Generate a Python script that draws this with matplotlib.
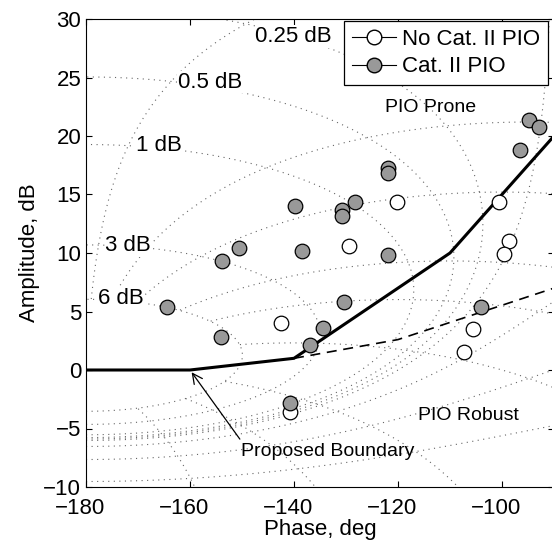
import numpy as np
import matplotlib
matplotlib.use('Agg')
from matplotlib import pyplot as plt
from matplotlib.lines import Line2D
from matplotlib.transforms import ScaledTranslation

plt.rcParams['font.family'] = ['Liberation Sans', 'DejaVu Sans']
plt.rcParams['font.size'] = 16

# data (phase deg, amplitude dB)
no_pio_phase = [-142.5, -120.2, -100.5, -129.4, -98.7, -99.6, -105.5, -107.3, -140.8]
no_pio_amp = [4.0, 14.4, 14.4, 10.6, 11.0, 9.9, 3.5, 1.5, -3.6]

pio_phase = [-164.4, -153.8, -150.6, -154.0, -139.9, -138.4, -137.0, -130.8, -130.8,
             -128.3, -122.0, -122.0, -122.0, -130.3, -134.4, -104.0, -94.9, -92.9,
             -96.5, -140.8]
pio_amp = [5.4, 9.3, 10.4, 2.8, 14.0, 10.2, 2.1, 13.7, 13.2,
           14.4, 17.3, 16.8, 9.8, 5.8, 3.6, 5.4, 21.4, 20.8,
           18.8, -2.85]

boundary_phase = [-180, -160, -140, -110, -90]
boundary_amp = [0, 0, 1.0, 10.0, 20.0]

dashed_phase = [-140, -120, -90]
dashed_amp = [1.0, 2.6, 7.0]

# nichols grid levels
grid_gains = [-40, -20, -12, -6, -3, -1, 0, 0.25, 0.5, 1, 3, 6]
grid_phases = [-150, -120, -90, -50, -30, -20, -10, -5, -1]
gain_labels = ['0.25 dB', '0.5 dB', '1 dB', '3 dB', '6 dB']
gain_label_pos = [(-140.1, 28.5), (-156.2, 24.6), (-166.0, 19.2), (-171.9, 10.6), (-173.3, 6.1)]

fig = plt.figure(figsize=(5.52, 5.40), dpi=100)
ax = fig.add_axes([86/552, 53/540, 468/552, 468/540])

# closed loop magnitude / phase over open loop plane
th = np.linspace(-180, -90, 700)
db = np.linspace(-12, 32, 700)
TH, DB = np.meshgrid(th, db)
G = 10**(DB/20) * np.exp(1j*np.deg2rad(TH))
T = G / (1 + G)
magT = 20*np.log10(np.abs(T))
phT = np.rad2deg(np.angle(T))
phT[magT > 6.0] = np.nan   # phase lines stop at the 6 dB contour

cs1 = ax.contour(TH, DB, magT, levels=grid_gains, colors='0.4', linewidths=0.8)
cs2 = ax.contour(TH, DB, phT, levels=grid_phases, colors='0.4', linewidths=0.8)
for cs in (cs1, cs2):
    cs.set_linestyle((0, (1, 4)))

for lab, (px, py) in zip(gain_labels, gain_label_pos):
    ax.text(px, py, lab, ha='center', va='center',
            bbox=dict(facecolor='white', edgecolor='none', pad=0.5))

ax.plot(boundary_phase, boundary_amp, color='k', lw=2.2, zorder=3)
ax.plot(dashed_phase, dashed_amp, color='k', lw=1.2, dashes=(6, 4), zorder=3)

ax.plot(no_pio_phase, no_pio_amp, 'o', ms=10.5, mfc='white', mec='k', mew=0.9, zorder=4)
ax.plot(pio_phase, pio_amp, 'o', ms=10.5, mfc='0.6', mec='k', mew=0.9, zorder=5)

ax.text(-122.5, 22.4, 'PIO Prone', va='center', fontsize=14)
ax.text(-116.2, -3.85, 'PIO Robust', va='center', fontsize=14)
ax.text(-150.1, -7.0, 'Proposed Boundary', va='center', fontsize=14)
ax.annotate('', xy=(-160, 0), xytext=(-150.1, -6.1),
            arrowprops=dict(arrowstyle='->', lw=0.9, color='k', mutation_scale=18))

handles = [Line2D([], [], color='k', lw=0.8, marker='o', ms=10.5, mfc='white', mec='k'),
           Line2D([], [], color='k', lw=0.8, marker='o', ms=10.5, mfc='0.6', mec='k')]
leg = ax.legend(handles, ['No Cat. II PIO', 'Cat. II PIO'], loc='upper right',
                bbox_to_anchor=(0.987, 0.996), borderaxespad=0, fancybox=False,
                framealpha=1, edgecolor='k', handlelength=2.0, labelspacing=0.3,
                borderpad=0.35, handletextpad=0.25, fontsize=16)
leg.get_frame().set_linewidth(0.9)
leg.set_zorder(10)

ax.set_xlim(-180, -90)
ax.set_ylim(-10, 30)
ax.set_xticks([-180, -160, -140, -120, -100])
ax.set_yticks(np.arange(-10, 31, 5))
ax.tick_params(direction='in', top=True, right=True, length=4, labelsize=16)
ax.tick_params(axis='x', pad=8)
shift = ScaledTranslation(-6/100, 0, fig.dpi_scale_trans)
for lbl in ax.get_xticklabels():
    lbl.set_transform(lbl.get_transform() + shift)
ax.set_xlabel('Phase, deg', labelpad=0)
ax.set_ylabel('Amplitude, dB', labelpad=2)

fig.savefig('out.png', dpi=100)
